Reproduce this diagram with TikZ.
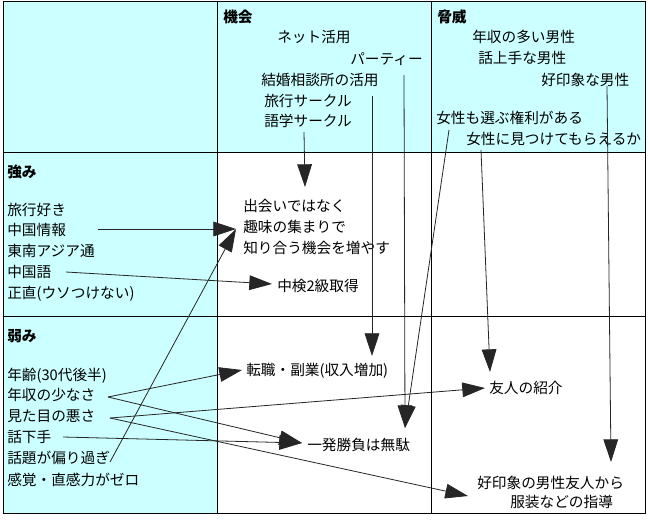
\documentclass[tikz,border=0pt]{standalone}
\usepackage{fontspec}
\setmainfont{Noto Sans CJK JP}
\usetikzlibrary{arrows.meta}
\definecolor{cyanbg}{HTML}{CCFFFF}
\begin{document}
\begin{tikzpicture}[x=0.75pt,y=-0.75pt,
  lbl/.style={anchor=west,inner sep=0pt,font=\fontsize{11pt}{15.75pt}\selectfont,text height=9.2pt,text depth=0.8pt},
  hdr/.style={lbl,font=\fontsize{11pt}{15.75pt}\selectfont\bfseries},
  gridline/.style={line width=0.75pt,black},
  arr/.style={-{Triangle[length=17pt,width=11pt]},line width=0.6pt,black!85}]
\useasboundingbox[fill=white] (0,0) rectangle (650,519);
% backgrounds
\fill[cyanbg] (3,1) rectangle (645,152);
\fill[cyanbg] (3,152) rectangle (217,513);
% grid
\draw[gridline] (3,1) rectangle (645,513);
\draw[gridline] (217,1) -- (217,513);
\draw[gridline] (431,1) -- (431,513);
\draw[gridline] (3,152) -- (645,152);
\draw[gridline] (3,316) -- (645,316);
% headers
\node[hdr] (kikai) at (223,17) {機会};
\node[hdr] (kyoi) at (437,17) {脅威};
\node[hdr] (tsuyomi) at (7,172) {強み};
\node[hdr] (yowami) at (7,336) {弱み};
% opportunities
\node[lbl] (net) at (277,37) {ネット活用};
\node[lbl] (party) at (350,59) {パーティー};
\node[lbl] (kekkon) at (261,80) {結婚相談所の活用};
\node[lbl] (ryokoc) at (264,101) {旅行サークル};
\node[lbl] (gogaku) at (264,121) {語学サークル};
% threats
\node[lbl] (nenshum) at (472,37) {年収の多い男性};
\node[lbl] (hanashim) at (478,58) {話上手な男性};
\node[lbl] (kouinm) at (541,80) {好印象な男性};
\node[lbl] (erabu) at (436,118) {女性も選ぶ権利がある};
\node[lbl] (mitsuke) at (466,139) {女性に見つけてもらえるか};
% strengths
\node[lbl] (ryokozuki) at (7,210) {旅行好き};
\node[lbl] (cjoho) at (7,230) {中国情報};
\node[lbl] (tonan) at (7,251) {東南アジア通};
\node[lbl] (cgo) at (7,272) {中国語};
\node[lbl] (shojiki) at (7,293) {正直(ウソつけない)};
% weaknesses
\node[lbl] (nenrei) at (7,375) {年齢(30代後半)};
\node[lbl] (nenshu) at (7,395) {年収の少なさ};
\node[lbl] (mitame) at (7,416) {見た目の悪さ};
\node[lbl] (heta) at (7,437) {話下手};
\node[lbl] (wadai) at (7,458) {話題が偏り過ぎ};
\node[lbl] (kankaku) at (7,480) {感覚・直感力がゼロ};
% strategies
\node[lbl] (deai1) at (243,206) {出会いではなく};
\node[lbl] (deai2) at (243,227) {趣味の集まりで};
\node[lbl] (deai3) at (243,248) {知り合う機会を増やす};
\node[lbl] (chuken) at (277,286) {中検2級取得};
\node[lbl] (tenshoku) at (246,370) {転職・副業(収入増加)};
\node[lbl] (ippatsu) at (307,445) {一発勝負は無駄};
\node[lbl] (tomo) at (489,388) {友人の紹介};
\node[lbl] (koin1) at (477,483) {好印象の男性友人から};
\node[lbl] (koin2) at (510,502) {服装などの指導};
% connector end points
\coordinate (sGogaku) at (304,132);
\coordinate (tDeaiTop) at (305,187);
\coordinate (sKekkon) at (372,96);
\coordinate (tTenshokuTop) at (372,356);
\coordinate (sParty) at (404,75);
\coordinate (tIppatsuTop) at (405,428);
\coordinate (sErabu) at (449,130);
\coordinate (sMitsuke) at (481,150);
\coordinate (tTomoTop) at (490,372);
\coordinate (sKouin) at (607,86);
\coordinate (tKoinTop) at (611,462);
\coordinate (sCjoho) at (98,229);
\coordinate (tDeaiLeft) at (236,229);
\coordinate (sWadai) at (110,462);
\coordinate (sCgo) at (66,272);
\coordinate (tChuken) at (272,284);
\coordinate (sNenshu) at (108,397);
\coordinate (tTenshoku) at (242,370);
\coordinate (tIppatsu) at (302,443);
\coordinate (sMitame) at (110,418);
\coordinate (tTomo) at (485,388);
\coordinate (tKoin) at (468,496);
\coordinate (sHeta) at (63,437);
% connectors
\draw[arr] (sGogaku) -- (tDeaiTop);
\draw[arr] (sKekkon) -- (tTenshokuTop);
\draw[arr] (sParty) -- (tIppatsuTop);
\draw[arr] (sErabu) -- (tIppatsuTop);
\draw[arr] (sMitsuke) -- (tTomoTop);
\draw[arr] (sKouin) -- (tKoinTop);
\draw[arr] (sCjoho) -- (tDeaiLeft);
\draw[arr] (sWadai) -- (tDeaiLeft);
\draw[arr] (sCgo) -- (tChuken);
\draw[arr] (sNenshu) -- (tTenshoku);
\draw[arr] (sNenshu) -- (tIppatsu);
\draw[arr] (sMitame) -- (tTomo);
\draw[arr] (sMitame) -- (tKoin);
\draw[arr] (sHeta) -- (tIppatsu);
\end{tikzpicture}
\end{document}
